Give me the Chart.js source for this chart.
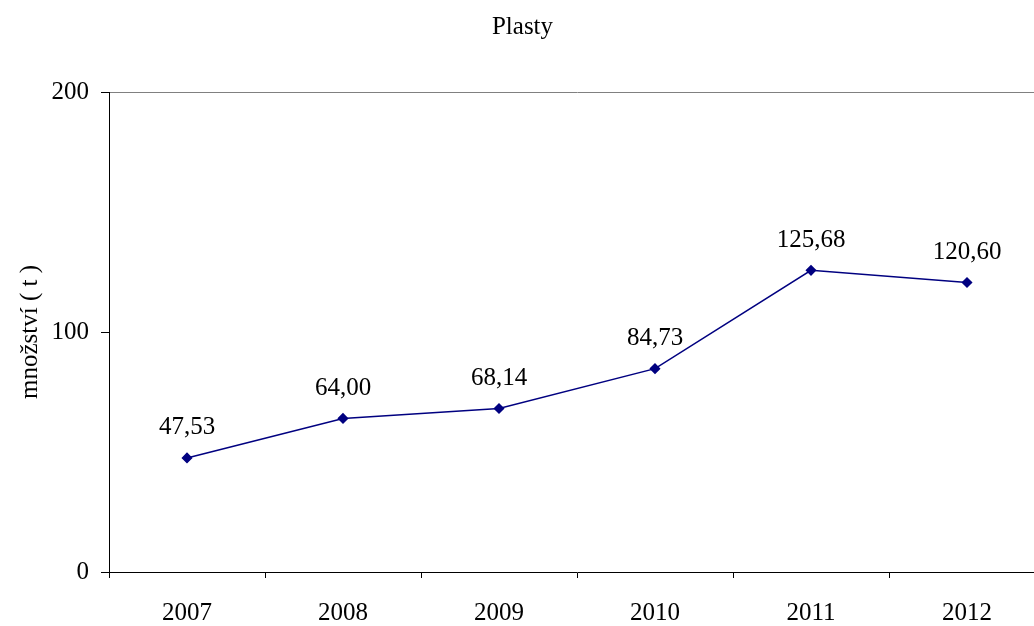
<!DOCTYPE html>
<html>
<head>
<meta charset="utf-8">
<script src="https://cdn.jsdelivr.net/npm/chart.js@4/dist/chart.umd.min.js"></script>
<style>
  html, body { margin: 0; padding: 0; background: #fff; overflow: hidden; }
  canvas { display: block; }
</style>
</head>
<body>
<canvas id="chart" width="1045" height="626"></canvas>
<script>
const years = ["2007", "2008", "2009", "2010", "2011", "2012"];
const plasty = [47.53, 64.00, 68.14, 84.73, 125.68, 120.60];
const yTicks = [0, 100, 200];

const font = "'Liberation Serif', 'Times New Roman', serif";

// draws "47,53" style labels above each point
const valueLabels = {
  id: "valueLabels",
  afterDatasetsDraw(chart) {
    const ctx = chart.ctx;
    const meta = chart.getDatasetMeta(0);
    ctx.save();
    ctx.font = "25px " + font;
    ctx.fillStyle = "#000";
    ctx.textAlign = "center";
    ctx.textBaseline = "middle";
    meta.data.forEach((pt, i) => {
      ctx.fillText(plasty[i].toFixed(2).replace(".", ","), pt.x, pt.y - 30);
    });
    ctx.restore();
  },
};

new Chart(document.getElementById("chart"), {
  type: "line",
  data: {
    labels: years,
    datasets: [{
      data: plasty,
      borderColor: "#000080",
      backgroundColor: "#000080",
      borderWidth: 1.5,
      pointStyle: "rectRot",
      pointRadius: 4.5,
      pointHoverRadius: 4.5,
      tension: 0,
    }],
  },
  options: {
    responsive: false,
    animation: false,
    devicePixelRatio: 1,
    layout: { padding: 0, autoPadding: false },
    plugins: {
      legend: { display: false },
      tooltip: { enabled: false },
      title: {
        display: true,
        text: "Plasty",
        color: "#000",
        font: { family: font, size: 25, weight: "normal" },
        padding: { top: 12, bottom: 50 },
      },
    },
    scales: {
      x: {
        offset: true,
        grid: {
          offset: true,
          drawOnChartArea: false,
          drawTicks: true,
          tickLength: 6,
          tickColor: "#000",
        },
        border: { color: "#000", width: 1 },
        ticks: { color: "#000", font: { family: font, size: 25 }, padding: 20, maxRotation: 0 },
        afterFit(scale) { scale.height = 54; },
      },
      y: {
        min: 0,
        max: 200,
        afterBuildTicks(scale) { scale.ticks = yTicks.map(v => ({ value: v })); },
        grid: {
          color: c => (c.tick && c.tick.value === 200 ? "#808080" : "transparent"),
          tickColor: "#000",
          tickLength: 8,
        },
        border: { color: "#000", width: 1 },
        ticks: { color: "#000", font: { family: font, size: 25 }, padding: 12 },
        title: {
          display: true,
          text: "množství ( t )",
          color: "#000",
          font: { family: font, size: 25 },
          padding: { top: 15, bottom: 0 },
        },
        afterFit(scale) { scale.width = 109; },
      },
    },
  },
  plugins: [valueLabels],
});
</script>
</body>
</html>
